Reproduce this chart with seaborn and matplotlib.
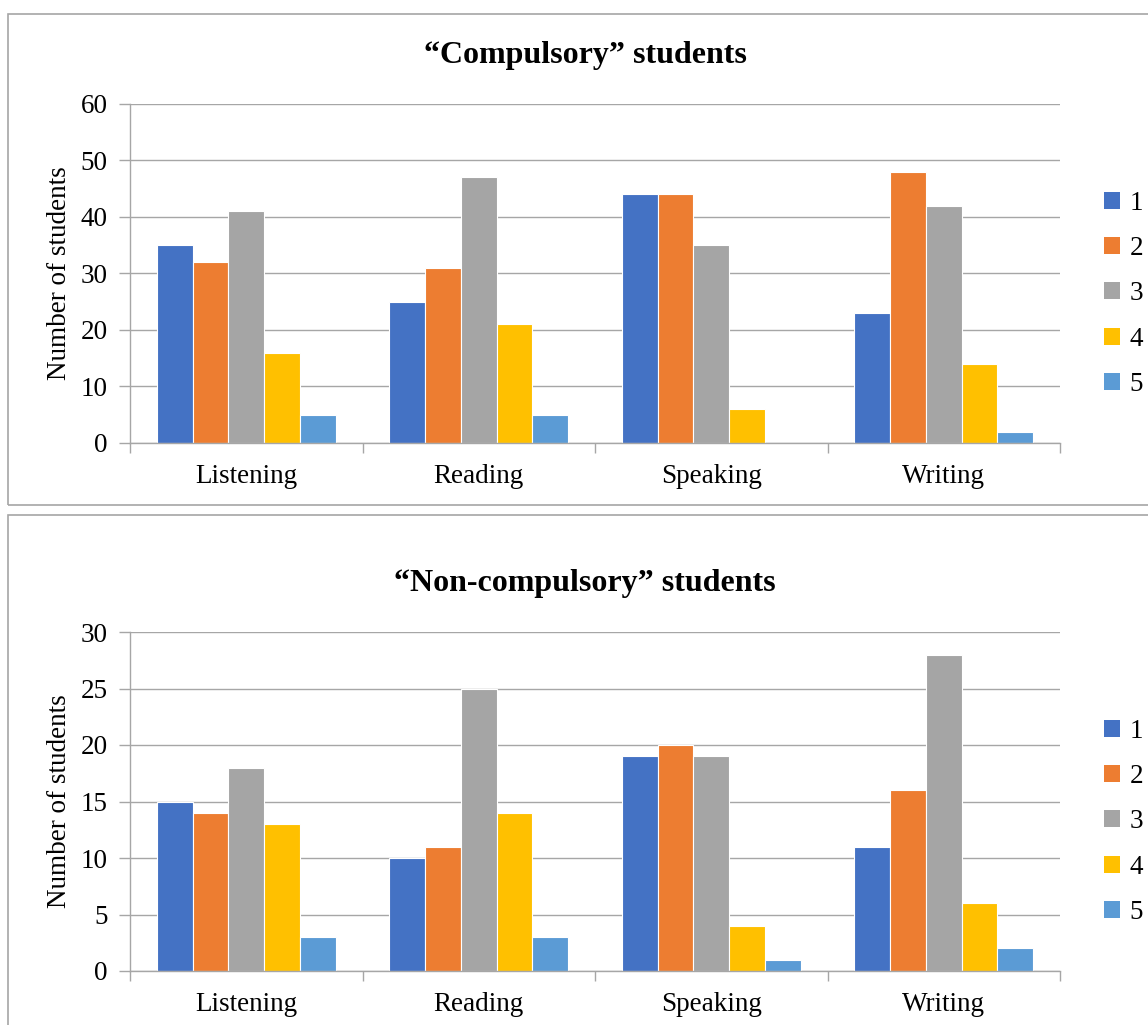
import matplotlib
matplotlib.use("Agg")
import matplotlib.pyplot as plt
from matplotlib.patches import Rectangle, Patch
import numpy as np
import pandas as pd
import seaborn as sns

skills = ["Listening", "Reading", "Speaking", "Writing"]
levels = ["1", "2", "3", "4", "5"]
palette = ["#4472C4", "#ED7D31", "#A5A5A5", "#FFC000", "#5B9BD5"]

# counts per skill, one list per rating level
comp_1 = [35, 25, 44, 23]
comp_2 = [32, 31, 44, 48]
comp_3 = [41, 47, 35, 42]
comp_4 = [16, 21, 6, 14]
comp_5 = [5, 5, 0, 2]

noncomp_1 = [15, 10, 19, 11]
noncomp_2 = [14, 11, 20, 16]
noncomp_3 = [18, 25, 19, 28]
noncomp_4 = [13, 14, 4, 6]
noncomp_5 = [3, 3, 1, 2]

titles = ["\u201cCompulsory\u201d students", "\u201cNon-compulsory\u201d students"]
ylims = [60, 30]
ysteps = [10, 5]


def to_long(series):
    rows = []
    for lvl, vals in zip(levels, series):
        for sk, v in zip(skills, vals):
            rows.append({"skill": sk, "level": lvl, "count": v})
    return pd.DataFrame(rows)


data = [
    to_long([comp_1, comp_2, comp_3, comp_4, comp_5]),
    to_long([noncomp_1, noncomp_2, noncomp_3, noncomp_4, noncomp_5]),
]

sns.set_theme(style="white")
plt.rcParams["font.family"] = ["Liberation Serif", "DejaVu Serif"]
plt.rcParams["text.color"] = "black"
plt.rcParams["axes.labelcolor"] = "black"

W, H = 1148, 1025
fig = plt.figure(figsize=(W / 100, H / 100), dpi=100)

# panel frames
fig.patches.append(Rectangle((8 / W, 1 - 505 / H), 1.2, (505 - 14) / H,
                             transform=fig.transFigure, fill=False,
                             edgecolor="#A6A6A6", linewidth=1.2))
fig.patches.append(Rectangle((8 / W, -0.1), 1.2, 0.1 + (1025 - 515) / H,
                             transform=fig.transFigure, fill=False,
                             edgecolor="#A6A6A6", linewidth=1.2))

axes_px = [(104, 443), (632, 971)]
title_y = [55, 583]
grid_c = "#A6A6A6"
fs = 19.5

for i in range(2):
    top, bot = axes_px[i]
    ax = fig.add_axes([130 / W, 1 - bot / H, (1060 - 130) / W, (bot - top) / H])
    sns.barplot(data=data[i], x="skill", y="count", hue="level",
                palette=palette, width=0.77, ax=ax, edgecolor="white",
                linewidth=0.8, saturation=1, legend=False, errorbar=None)
    ax.set_xlim(-0.5, 3.5)
    ax.set_ylim(0, ylims[i])
    ax.set_yticks(np.arange(0, ylims[i] + 1, ysteps[i]))
    ax.yaxis.grid(True, color=grid_c, linewidth=1.0)
    ax.set_axisbelow(True)
    for s in ["top", "right"]:
        ax.spines[s].set_visible(False)
    for s in ["left", "bottom"]:
        ax.spines[s].set_color(grid_c)
        ax.spines[s].set_linewidth(1.0)
    ax.set_xticks(range(4))
    ax.set_xticklabels(skills)
    ax.set_xticks(np.arange(-0.5, 4, 1), minor=True)
    ax.tick_params(axis="x", which="major", length=0, labelsize=fs, pad=15,
                   labelcolor="black")
    ax.tick_params(axis="x", which="minor", length=7, width=1.0, color=grid_c,
                   direction="out", bottom=True)
    ax.tick_params(axis="y", length=8, width=1.0, color=grid_c, left=True,
                   labelsize=fs, pad=8, labelcolor="black")
    ax.set_xlabel("")
    ax.set_ylabel("Number of students", fontsize=fs, labelpad=6, color="black")
    fig.text(585 / W, 1 - title_y[i] / H, titles[i], ha="center", va="center",
             fontsize=23, fontweight="bold", color="black")
    handles = [Patch(facecolor=c, edgecolor="none") for c in palette]
    leg = ax.legend(handles, levels, loc="center left",
                    bbox_to_anchor=(1.021, 0.44), frameon=False, fontsize=fs,
                    handlelength=0.6, handleheight=0.6, handletextpad=0.35,
                    labelspacing=0.75)
    for t in leg.get_texts():
        t.set_color("black")

fig.savefig("out.png", dpi=100)
